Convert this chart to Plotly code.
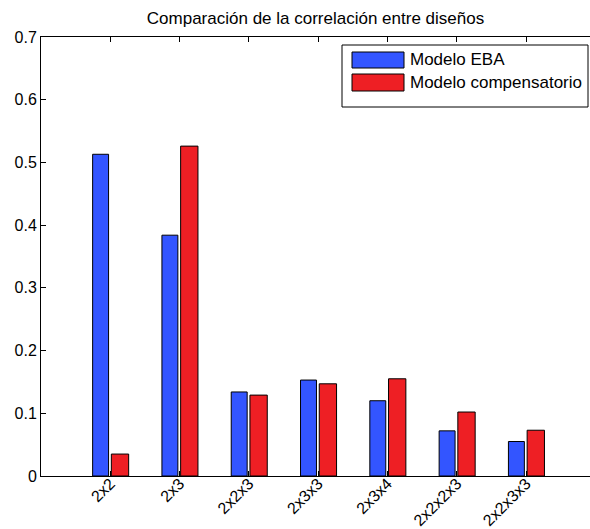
import plotly.graph_objects as go

# Design categories and the correlation achieved by each model
disenos = ["2x2", "2x3", "2x2x3", "2x3x3", "2x3x4", "2x2x2x3", "2x2x3x3"]
modelo_eba = [0.513, 0.384, 0.134, 0.153, 0.120, 0.072, 0.055]
modelo_compensatorio = [0.035, 0.526, 0.129, 0.147, 0.155, 0.102, 0.073]
y_ticks = [0, 0.1, 0.2, 0.3, 0.4, 0.5, 0.6, 0.7]

AZUL = "#3355ff"
ROJO = "#ee1f24"
FUENTE = "Liberation Sans, Arial, Helvetica, sans-serif"

fig = go.Figure()
fig.add_trace(go.Bar(
    x=disenos, y=modelo_eba, name="Modelo EBA",
    width=0.23, offset=-0.255,
    marker=dict(color=AZUL, line=dict(color="black", width=1)),
))
fig.add_trace(go.Bar(
    x=disenos, y=modelo_compensatorio, name="Modelo compensatorio",
    width=0.25, offset=0.015,
    marker=dict(color=ROJO, line=dict(color="black", width=1)),
))

# Boxed legend with wide colour patches, placed in paper coordinates
W, H = 590, 529
L, T, B = 41, 37, 53
pw, ph = W - L, H - T - B


def px(x):
    return (x - L) / pw


def py(y):
    return (H - B - y) / ph


shapes = [
    dict(type="rect", xref="paper", yref="paper",
         x0=px(342), x1=px(588), y0=py(107), y1=py(45),
         line=dict(color="black", width=1), fillcolor="white", layer="above"),
]
anns = []
items = [("Modelo EBA", AZUL, 52, 68), ("Modelo compensatorio", ROJO, 74, 91)]
for label, col, y0, y1 in items:
    shapes.append(dict(type="rect", xref="paper", yref="paper",
                       x0=px(352), x1=px(404), y0=py(y1), y1=py(y0),
                       line=dict(color="black", width=1), fillcolor=col,
                       layer="above"))
    anns.append(dict(xref="paper", yref="paper", x=px(408), y=py((y0 + y1) / 2),
                     text=label, showarrow=False, xanchor="left",
                     yanchor="middle", font=dict(size=17, color="black",
                                                 family=FUENTE)))

fig.update_layout(
    width=W, height=H,
    margin=dict(l=L, r=0, t=T, b=B, pad=0, autoexpand=False),
    paper_bgcolor="white", plot_bgcolor="white",
    barmode="overlay",
    showlegend=False,
    font=dict(family=FUENTE, size=16, color="black"),
    title=dict(text="Comparación de la correlación entre diseños",
               x=(L + W) / 2 / W, xanchor="center", y=1 - 18 / H,
               yanchor="middle", font=dict(size=17, color="black")),
    shapes=shapes,
    annotations=anns,
)
fig.update_xaxes(
    type="category", range=[-1, (W - L) / 69.3 - 1],
    tickangle=-45, ticks="inside", ticklen=5, tickcolor="black",
    showline=True, linecolor="black", linewidth=1, mirror="ticks",
    showgrid=False, zeroline=False, tickfont=dict(size=16),
    ticklabelstandoff=-9,
    automargin=False,
)
fig.update_yaxes(
    range=[0, 0.7], tickvals=y_ticks,
    ticktext=[("%g" % v) for v in y_ticks],
    ticks="inside", ticklen=5, tickcolor="black",
    showline=True, linecolor="black", linewidth=1, mirror=False,
    showgrid=False, zeroline=False, tickfont=dict(size=16),
    automargin=False,
)

# Keep the page from scrolling so the full figure width stays visible
fig.write_html(
    "out.html",
    post_script=(
        "document.documentElement.style.overflow='hidden';"
        "document.body.style.overflow='hidden';"
        "document.body.style.margin='0';"
    ),
)
